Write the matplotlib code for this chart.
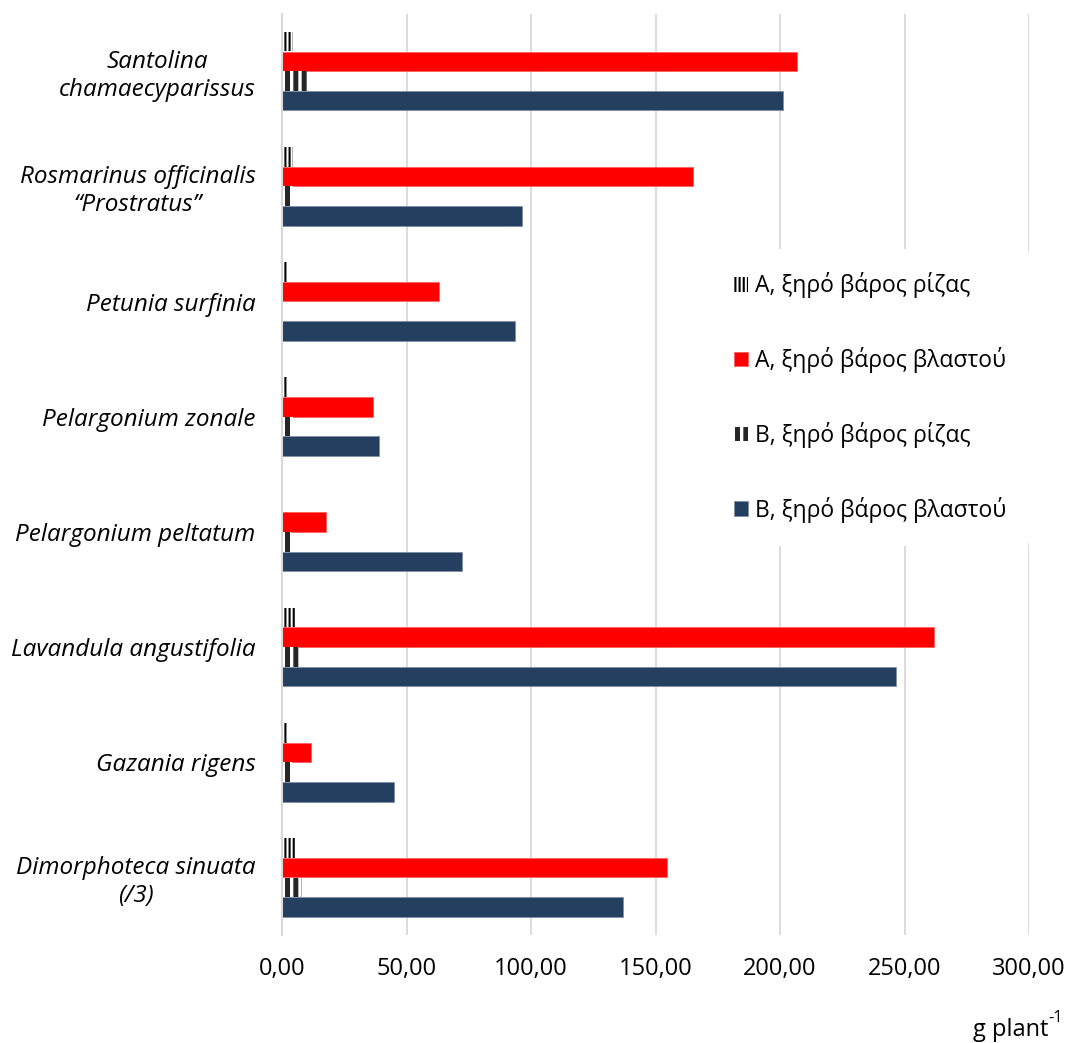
import matplotlib
matplotlib.use("Agg")
import matplotlib.pyplot as plt
import numpy as np

plt.rcParams['font.family'] = ['Open Sans', 'DejaVu Sans']

species = ["Santolina\nchamaecyparissus", "Rosmarinus officinalis\n\u201cProstratus\u201d",
           "Petunia surfinia", "Pelargonium zonale", "Pelargonium peltatum",
           "Lavandula angustifolia", "Gazania rigens", "Dimorphoteca sinuata\n(/3)"]
a_root = [4.4, 4.4, 2.0, 2.5, 0.8, 5.6, 2.0, 5.6]
a_shoot = [207.0, 165.0, 63.0, 36.5, 17.7, 262.0, 11.6, 154.6]
b_root = [10.0, 4.5, 0.5, 4.4, 3.5, 6.8, 4.0, 8.0]
b_shoot = [201.0, 96.4, 93.6, 39.0, 72.3, 246.6, 45.0, 137.0]
xticks = [0, 50, 100, 150, 200, 250, 300]
xtick_labels = ["0,00", "50,00", "100,00", "150,00", "200,00", "250,00", "300,00"]

fig = plt.figure(figsize=(10.78, 10.43), dpi=100)
ax = fig.add_axes([0.2616, 0.1035, 0.693, 0.8835])

y = np.arange(len(species))
h = 0.17
step = 0.171

# hatch widths per root series (A thin stripes, B thick stripes)
hatch_lw = {'||||': 1.5, '||': 3.6}


def hatched(vals, offset, hatch, color, label):
    lw = hatch_lw[hatch]
    with plt.rc_context({'hatch.linewidth': lw}):
        bars = ax.barh(y + offset, vals, height=h, color='white', edgecolor=color,
                       linewidth=0, hatch=hatch, label=label, zorder=3)
    for b in bars:
        if hasattr(b, 'set_hatch_linewidth'):
            b.set_hatch_linewidth(lw)
    return bars


hatched(a_root, -1.5 * step, '||||', 'black', "A, ξηρό βάρος ρίζας")
ax.barh(y - 0.5 * step, a_shoot, height=h, color='#FF0000', edgecolor='#FF6060',
        linewidth=0.6, label="A, ξηρό βάρος βλαστού", zorder=3)
hatched(b_root, 0.5 * step, '||', '#262626', "B, ξηρό βάρος ρίζας")
ax.barh(y + 1.5 * step, b_shoot, height=h, color='#243F60', edgecolor='#7F8FA6',
        linewidth=0.6, label="B, ξηρό βάρος βλαστού", zorder=3)

ax.set_xlim(0, 300)
ax.set_ylim(len(species) - 0.5, -0.5)
ax.set_xticks(xticks)
ax.set_xticklabels(xtick_labels, fontsize=17)
ax.set_yticks(y)
ax.set_yticklabels(species, fontsize=17.5, style='italic', ha='right',
                   multialignment='center')
ax.tick_params(length=0)
ax.tick_params(axis='x', pad=16)
ax.tick_params(axis='y', pad=19)
ax.xaxis.grid(True, color='#D9D9D9', linewidth=1.3, zorder=0)
ax.set_axisbelow(True)
for s in ['top', 'right', 'bottom']:
    ax.spines[s].set_visible(False)
ax.spines['left'].set_color('#D9D9D9')
ax.spines['left'].set_linewidth(1.5)
ax.spines['left'].set_zorder(4)

leg = ax.legend(loc='upper right', bbox_to_anchor=(1.0, 0.744), frameon=True,
                fontsize=16.5, labelspacing=2.13, handlelength=0.6, handleheight=0.6,
                handletextpad=0.3, borderpad=1.0, borderaxespad=0)
leg.get_frame().set_facecolor('white')
leg.get_frame().set_edgecolor('none')
leg.get_frame().set_alpha(1)
leg.set_zorder(5)
for handle in leg.legend_handles:
    hp = handle.get_hatch()
    if hp in hatch_lw and hasattr(handle, 'set_hatch_linewidth'):
        handle.set_hatch_linewidth(hatch_lw[hp])

# unit label with a raised "-1"
fig.text(1048 / 1078, 0.007, "g plant", ha='right', va='baseline', fontsize=17)
fig.text(1048 / 1078, 0.020, "-1", ha='left', va='baseline', fontsize=12)

fig.savefig("out.png", dpi=100)
